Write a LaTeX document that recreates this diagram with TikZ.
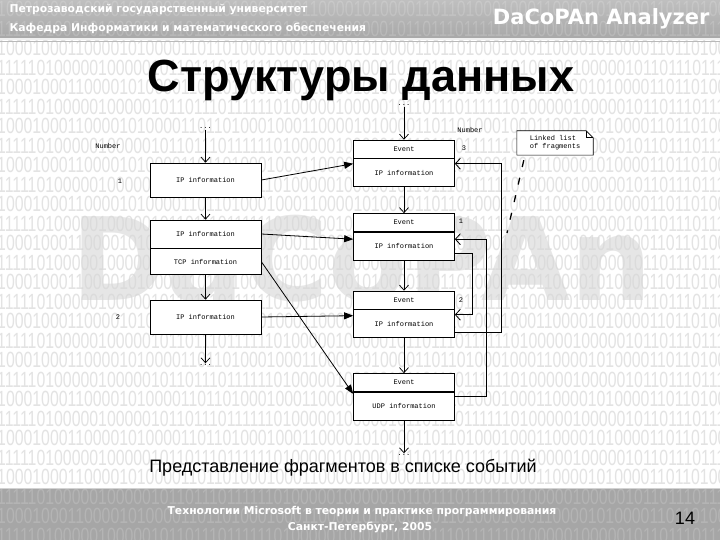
\documentclass[tikz,border=0pt]{standalone}
\usepackage{fontspec}
\setmainfont{Liberation Sans}
\newfontfamily\diagfont{Liberation Mono}
\newfontfamily\headfont{DejaVu Sans}
\newfontfamily\bitsfont[FakeStretch=0.72]{Liberation Sans}
\usetikzlibrary{positioning,arrows.meta,calc}

\definecolor{bandgray}{HTML}{A6A6A6}
\definecolor{bitgray}{HTML}{E3E3E3}
\definecolor{markgray}{HTML}{D6D6D6}

\newcommand{\dfont}{\diagfont\fontsize{7}{8}\selectfont}
\newcommand{\bitsA}{100010001100001010000110110100010001100001010000110110100010001100001010000110110100010001}
\newcommand{\bitsB}{111110100000100000101101110111111010000010000010110111011111101000001000001011011101111110}

\begin{document}
\begin{tikzpicture}[x=1pt, y=-1pt,
  bits/.style={font={\bitsfont\fontsize{22}{22}\selectfont}, inner sep=0pt, anchor=west},
  lbox/.style={draw, fill=white, line width=0.7pt, minimum width=111pt, minimum height=34pt, inner sep=0pt, font=\dfont},
  evhead/.style={draw, fill=white, line width=0.7pt, minimum width=101pt, minimum height=18pt, inner sep=0pt, font=\dfont},
  evbody/.style={evhead, minimum height=28pt},
  tag/.style={font=\dfont, inner sep=1pt},
  flow/.style={-{Straight Barb[length=5pt,width=9pt]}, line width=0.7pt},
  frag/.style={-{Triangle[length=9pt,width=7pt]}, line width=0.8pt},
  link/.style={-{Straight Barb[length=5pt,width=11pt]}, line width=0.8pt},
  notelink/.style={line width=1.3pt, dash pattern=on 7pt off 11pt}
]
\useasboundingbox (0,0) rectangle (720,540);
\begin{scope}
\clip (0,0) rectangle (720,540);
\fill[white] (0,0) rectangle (720,540);
% binary background
\foreach \k in {0,...,22} {
  \pgfmathsetmacro{\yy}{48+19.5*\k}
  \ifodd\k \def\bitrow{\bitsB}\else\def\bitrow{\bitsA}\fi
  \node[bits, text=bitgray] at (-3,\yy) {\bitrow};
}
% header and footer bands
\shade[top color=gray!50, bottom color=gray!68] (0,0) rectangle (720,38);
\fill[gray!12] (0,38) rectangle (720,40);
\draw[gray!55] (0,41) -- (720,41);
\draw[gray!35, line width=1pt] (0,488) -- (720,488);
\fill[bandgray] (0,489) rectangle (720,540);
\foreach \k in {-2,-1,23,24,25} {
  \pgfmathsetmacro{\yy}{48+19.5*\k}
  \ifodd\k \def\bitrow{\bitsB}\else\def\bitrow{\bitsA}\fi
  \node[bits, text=white, opacity=0.16] at (-3,\yy) {\bitrow};
}
\end{scope}

% watermark
\node[anchor=base, text=markgray, opacity=0.6, font={\headfont\bfseries\fontsize{115}{115}\selectfont}] (mark) at (362,300) {DaCoPAn};

% header texts
\node[anchor=west, text=white, font={\headfont\bfseries\fontsize{10.8}{12}\selectfont}] (univ) at (6,10) {Петрозаводский государственный университет};
\node[anchor=west, text=white, font={\headfont\bfseries\fontsize{10.8}{12}\selectfont}] (dept) at (6,28) {Кафедра Информатики и математического обеспечения};
\node[anchor=east, text=white, font={\headfont\bfseries\fontsize{21}{23}\selectfont}] (brand) at (713,19) {DaCoPAn Analyzer};
\node[anchor=base, font={\bfseries\fontsize{45}{45}\selectfont}] (title) at (361,92) {Структуры данных};

% fragments
\node[tag] (ldots1) at (205.5,128) {...};
\node[tag] (lnum) at (108,146) {Number};
\node[lbox] (ip1) at (205.5,180) {IP information};
\node[lbox, minimum height=28pt] (ip2) at (205.5,234) {IP information};
\node[lbox, minimum height=26pt, below=0pt of ip2] (tcp2) {TCP information};
\node[lbox] (ip3) at (205.5,317) {IP information};
\node[tag] (ldots2) at (205.5,365) {...};
\node[tag] (lnum1) at (120,181) {1};
\node[tag] (lnum2) at (118,317) {2};

% events
\node[tag] (rdots1) at (404,105) {...};
\node[tag] (rnum) at (470,130) {Number};
\node[evhead] (ev3) at (404,149) {Event};
\node[evbody, below=0pt of ev3] (ev3i) {IP information};
\node[evhead] (ev1) at (404,222.5) {Event};
\node[evbody, below=0pt of ev1] (ev1i) {IP information};
\node[evhead] (ev2) at (404,300) {Event};
\node[evbody, below=0pt of ev2] (ev2i) {IP information};
\node[evhead] (ev4) at (404,382.5) {Event};
\node[evbody, below=0pt of ev4] (ev4i) {UDP information};
\node[tag] (rdots2) at (404,455) {...};
\node[tag] (rnum3) at (464,148) {3};
\node[tag] (rnum1) at (461,221) {1};
\node[tag] (rnum2) at (461,300) {2};

% note
\node[fill=white, minimum width=76pt, minimum height=24pt, inner sep=0pt, align=left, font=\dfont] (note) at (555,143) {Linked list\\of fragments};
\draw[line width=0.6pt] (note.south west) -- (note.north west) -- ([xshift=-7pt]note.north east)
  -- ([yshift=-7pt]note.north east) -- (note.south east) -- cycle;
\draw[line width=0.6pt] ([xshift=-7pt]note.north east) |- ([yshift=-7pt]note.north east);
\coordinate (lnk) at (507,233);
\draw[notelink] ([xshift=7pt,yshift=-5pt]note.south west) -- (lnk);

% chains
\draw[flow] (ldots1) -- (ip1);
\draw[flow] (ip1) -- (ip2);
\draw[flow] (tcp2) -- (ip3);
\draw[flow] (ip3) -- (ldots2);
\draw[flow] (rdots1) -- (ev3);
\draw[flow] (ev3i) -- (ev1);
\draw[flow] (ev1i) -- (ev2);
\draw[flow] (ev2i) -- (ev4);
\draw[flow] (ev4i) -- (rdots2);

% fragment -> event
\draw[frag] (ip1.east) -- ([yshift=9pt]ev3i.west);
\draw[frag] (ip2.east) -- ([yshift=7pt]ev1i.west);
\draw[frag] (tcp2.east) -- ([yshift=-2pt]ev4i.north west);
\draw[frag] (ip3.east) -- ([yshift=8pt]ev2i.west);

% linked list
\draw[link] ([yshift=7pt]ev1i.south east) -- ++(18,0) |- ([yshift=9pt]ev2i.east);
\draw[link] ([yshift=6pt]ev2i.south east) -- ++(47,0) |- ([yshift=9pt]ev3i.east);
\draw[link] ([yshift=10pt]ev4i.east) -- ++(32,0) |- ([yshift=7pt]ev1i.east);

\node[anchor=base, font={\fontsize{18}{18}\selectfont}] (caption) at (343,472) {Представление фрагментов в списке событий};

% footer
\node[text=white, font={\headfont\bfseries\fontsize{10.8}{12}\selectfont}] (conf) at (362,512) {Технологии Microsoft в теории и практике программирования};
\node[text=white, font={\headfont\bfseries\fontsize{10.8}{12}\selectfont}] (city) at (360,527) {Санкт-Петербург, 2005};
\node[font={\fontsize{18}{18}\selectfont}] (page) at (685,518) {14};
\end{tikzpicture}
\end{document}
